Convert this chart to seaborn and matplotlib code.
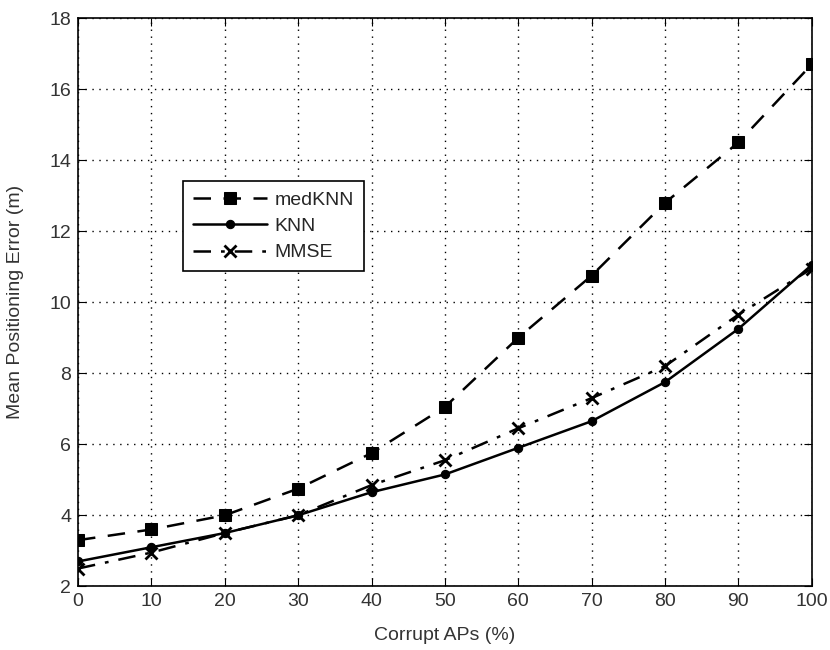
import matplotlib
matplotlib.use("Agg")
import matplotlib.pyplot as plt
import seaborn as sns
import pandas as pd

corrupt_aps = [0, 10, 20, 30, 40, 50, 60, 70, 80, 90, 100]
medknn = [3.3, 3.6, 4.0, 4.75, 5.75, 7.05, 9.0, 10.75, 12.8, 14.5, 16.7]
knn = [2.7, 3.1, 3.5, 4.0, 4.65, 5.15, 5.9, 6.65, 7.75, 9.25, 11.05]
mmse = [2.5, 2.95, 3.5, 4.0, 4.85, 5.55, 6.45, 7.3, 8.2, 9.65, 10.95]
x_ticks = [0, 10, 20, 30, 40, 50, 60, 70, 80, 90, 100]
y_ticks = [2, 4, 6, 8, 10, 12, 14, 16, 18]

sns.set_style("white")
plt.rcParams['font.family'] = ['Liberation Sans', 'DejaVu Sans']

fig = plt.figure(figsize=(8.3, 6.5), dpi=100)
ax = fig.add_axes([0.094, 0.098, 0.884, 0.874])

df = pd.DataFrame({"x": corrupt_aps, "medKNN": medknn, "KNN": knn, "MMSE": mmse})

sns.lineplot(data=df, x="x", y="medKNN", ax=ax, color="black", linestyle=(0, (7, 5)),
             marker="s", markersize=8, markeredgecolor="black", linewidth=1.8, label="medKNN")
sns.lineplot(data=df, x="x", y="KNN", ax=ax, color="black", linestyle="-",
             marker="o", markersize=6, markeredgecolor="black", linewidth=1.8, label="KNN")
sns.lineplot(data=df, x="x", y="MMSE", ax=ax, color="black", linestyle=(0, (7, 4, 1.5, 4)),
             marker="x", markersize=9, markeredgewidth=2, markeredgecolor="black", linewidth=1.8, label="MMSE")

ax.set_xlim(0, 100)
ax.set_ylim(2, 18)
ax.set_xticks(x_ticks)
ax.set_yticks(y_ticks)
ax.tick_params(direction="in", length=6, labelsize=14, colors="black", labelcolor="#333333",
               top=True, right=True, bottom=True, left=True, pad=5)
ax.grid(True, linestyle=(0, (1, 4)), color="black", linewidth=1)
for s in ax.spines.values():
    s.set_color("black")
    s.set_linewidth(1.2)
ax.set_xlabel("Corrupt APs (%)", fontsize=14, color="#333333", labelpad=12)
ax.set_ylabel("Mean Positioning Error (m)", fontsize=14, color="#333333", labelpad=18)

leg = ax.legend(loc="upper left", bbox_to_anchor=(0.13, 0.73), fontsize=14, frameon=True,
                fancybox=False, edgecolor="black", framealpha=1, handlelength=3.8,
                borderpad=0.5, labelspacing=0.45, handletextpad=0.4)
leg.get_frame().set_linewidth(1.2)

fig.savefig("out.png", dpi=100)
